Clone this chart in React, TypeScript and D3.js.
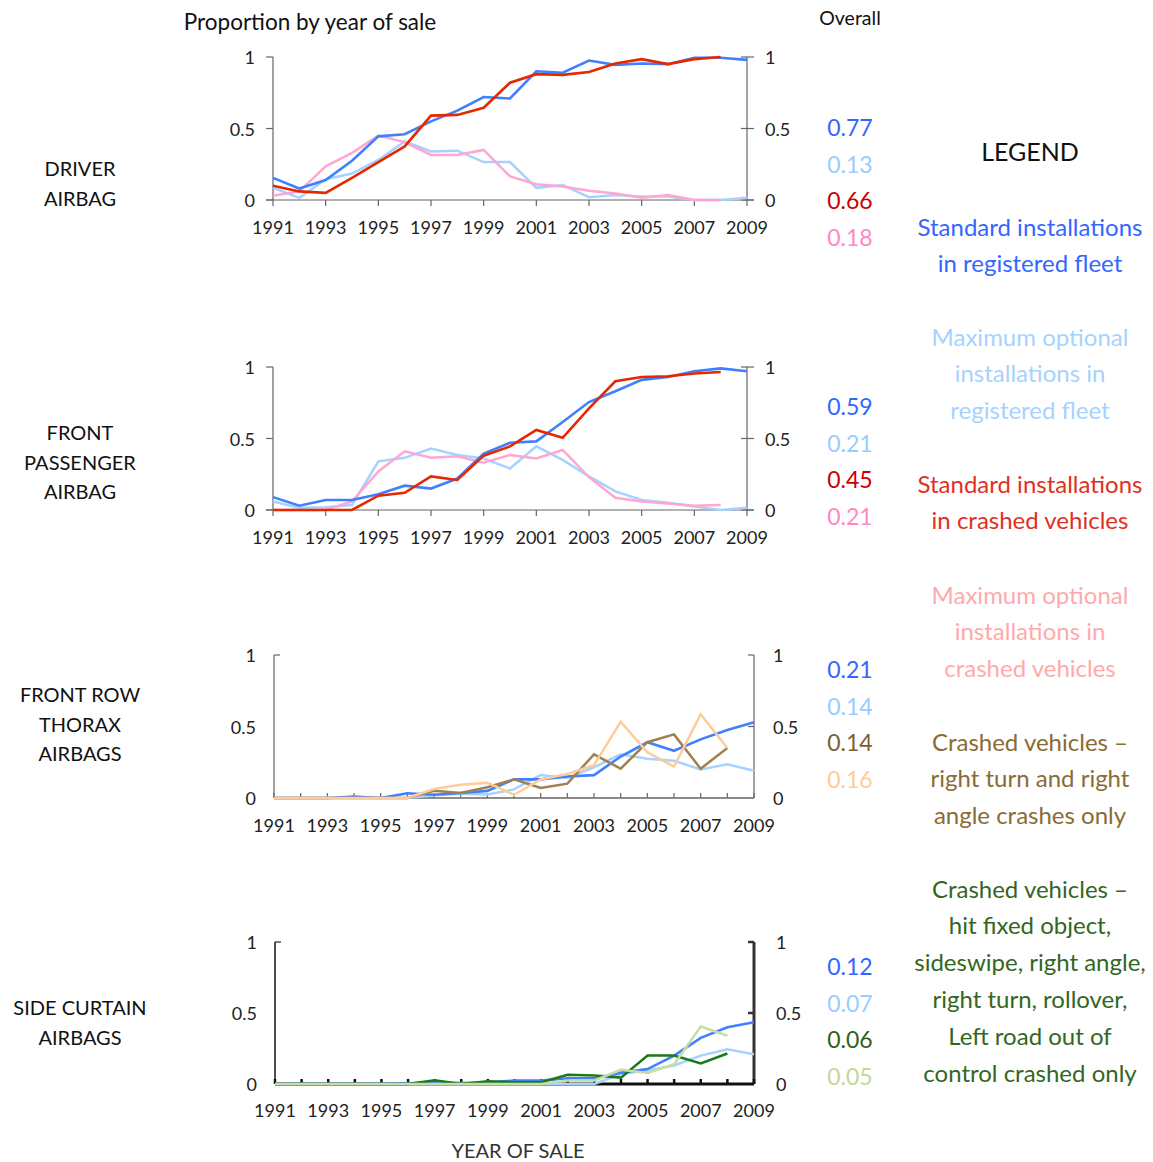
import React from "react";
import * as d3 from "d3";

const years = [1991, 1992, 1993, 1994, 1995, 1996, 1997, 1998, 1999, 2000, 2001, 2002, 2003, 2004, 2005, 2006, 2007, 2008, 2009];
const yearLabels = ["1991", "1993", "1995", "1997", "1999", "2001", "2003", "2005", "2007", "2009"];
const yTickValues = [0, 0.5, 1];
const yTickLabels = ["0", "0.5", "1"];

// Driver airbag
const driverStdFleet = [0.155, 0.08, 0.14, 0.275, 0.445, 0.46, 0.55, 0.625, 0.72, 0.71, 0.9, 0.89, 0.975, 0.945, 0.955, 0.95, 0.995, 0.995, 0.98];
const driverMaxFleet = [0.085, 0.015, 0.145, 0.185, 0.28, 0.41, 0.34, 0.345, 0.265, 0.265, 0.085, 0.105, 0.02, 0.035, 0.025, 0.025, 0, 0, 0.015];
const driverStdCrashed = [0.1, 0.06, 0.05, 0.155, 0.265, 0.375, 0.59, 0.595, 0.645, 0.82, 0.88, 0.875, 0.895, 0.955, 0.985, 0.95, 0.985, 1.0];
const driverMaxCrashed = [0.03, 0.06, 0.235, 0.33, 0.45, 0.405, 0.315, 0.315, 0.35, 0.165, 0.11, 0.095, 0.065, 0.045, 0.015, 0.035, 0, 0];
const driverOverall = ["0.77", "0.13", "0.66", "0.18"];

// Front passenger airbag
const passStdFleet = [0.09, 0.03, 0.07, 0.07, 0.11, 0.17, 0.15, 0.22, 0.395, 0.47, 0.48, 0.615, 0.755, 0.83, 0.91, 0.93, 0.97, 0.99, 0.97];
const passMaxFleet = [0.06, 0.015, 0.02, 0.035, 0.34, 0.365, 0.43, 0.385, 0.36, 0.29, 0.445, 0.35, 0.235, 0.13, 0.07, 0.05, 0.025, 0, 0.015];
const passStdCrashed = [0, 0, 0, 0, 0.1, 0.12, 0.235, 0.21, 0.38, 0.445, 0.56, 0.505, 0.71, 0.9, 0.93, 0.935, 0.955, 0.965];
const passMaxCrashed = [0, 0, 0, 0.06, 0.27, 0.41, 0.365, 0.375, 0.33, 0.385, 0.36, 0.42, 0.23, 0.085, 0.06, 0.045, 0.03, 0.035];
const passOverall = ["0.59", "0.21", "0.45", "0.21"];

// Front row thorax airbags
const thoraxStdFleet = [0, 0, 0, 0.01, 0, 0.033, 0.023, 0.035, 0.05, 0.13, 0.13, 0.15, 0.16, 0.29, 0.39, 0.33, 0.41, 0.475, 0.53];
const thoraxMaxFleet = [0, 0, 0, 0, 0, 0, 0.02, 0.03, 0.025, 0.06, 0.16, 0.14, 0.215, 0.305, 0.275, 0.26, 0.2, 0.235, 0.19];
const thoraxRightTurn = [0, 0, 0, 0, 0, 0, 0.05, 0.035, 0.075, 0.13, 0.07, 0.1, 0.305, 0.205, 0.39, 0.445, 0.205, 0.35];
const thoraxRightTurnMax = [0, 0, 0, 0, 0, 0, 0.063, 0.093, 0.107, 0.023, 0.13, 0.168, 0.23, 0.533, 0.32, 0.22, 0.585, 0.35];
const thoraxOverall = ["0.21", "0.14", "0.14", "0.16"];

// Side curtain airbags
const curtainStdFleet = [0, 0, 0, 0, 0, 0.005, 0.01, 0.007, 0.01, 0.024, 0.024, 0.04, 0.04, 0.08, 0.105, 0.2, 0.325, 0.4, 0.435];
const curtainMaxFleet = [0, 0, 0, 0, 0, 0, 0, 0, 0, 0, 0, 0, 0, 0.07, 0.095, 0.13, 0.2, 0.245, 0.21];
const curtainSelected = [0, 0, 0, 0, 0, 0, 0.026, 0, 0.02, 0.012, 0.012, 0.065, 0.06, 0.045, 0.2, 0.2, 0.145, 0.215];
const curtainSelectedMax = [0, 0, 0, 0, 0, 0, 0, 0, 0, 0, 0, 0.025, 0.025, 0.1, 0.078, 0.14, 0.405, 0.34];
const curtainOverall = ["0.12", "0.07", "0.06", "0.05"];

const FONT = "Lato, 'Open Sans', sans-serif";

const C = {
  blue: "#4080ff",
  lblue: "#a6d2ff",
  red: "#e62800",
  pink: "#ffa6d2",
  brown: "#a08050",
  peach: "#ffcc99",
  dgreen: "#1a7a1a",
  pgreen: "#c8dca8",
};

type Series = { values: number[]; color: string; width: number };

type Panel = {
  label: string[];
  labelY: number;
  left: number;
  right: number;
  top: number;
  bottom: number;
  style: "a" | "b" | "c";
  series: Series[];
  overall: string[];
  overallColors: string[];
  overallY: number;
  rightLabelX: number;
  xLabelY: number;
};

const panels: Panel[] = [
  {
    label: ["DRIVER", "AIRBAG"], labelY: 168,
    left: 273, right: 747, top: 57, bottom: 200, style: "a",
    series: [
      { values: driverMaxFleet, color: C.lblue, width: 2.5 },
      { values: driverMaxCrashed, color: C.pink, width: 2.5 },
      { values: driverStdFleet, color: C.blue, width: 2.6 },
      { values: driverStdCrashed, color: C.red, width: 2.6 },
    ],
    overall: driverOverall,
    overallColors: ["#3366ff", "#99ccff", "#cc0000", "#ff88c4"],
    overallY: 127, rightLabelX: 765, xLabelY: 227,
  },
  {
    label: ["FRONT", "PASSENGER", "AIRBAG"], labelY: 432,
    left: 273, right: 747, top: 367, bottom: 510, style: "a",
    series: [
      { values: passMaxFleet, color: C.lblue, width: 2.5 },
      { values: passMaxCrashed, color: C.pink, width: 2.5 },
      { values: passStdFleet, color: C.blue, width: 2.6 },
      { values: passStdCrashed, color: C.red, width: 2.6 },
    ],
    overall: passOverall,
    overallColors: ["#3366ff", "#99ccff", "#cc0000", "#ff88c4"],
    overallY: 406, rightLabelX: 765, xLabelY: 537,
  },
  {
    label: ["FRONT ROW", "THORAX", "AIRBAGS"], labelY: 694,
    left: 274, right: 754, top: 655, bottom: 798, style: "b",
    series: [
      { values: thoraxMaxFleet, color: C.lblue, width: 2.5 },
      { values: thoraxStdFleet, color: C.blue, width: 2.6 },
      { values: thoraxRightTurn, color: C.brown, width: 2.5 },
      { values: thoraxRightTurnMax, color: C.peach, width: 2.5 },
    ],
    overall: thoraxOverall,
    overallColors: ["#3366ff", "#99ccff", "#7f6030", "#ffcc99"],
    overallY: 669, rightLabelX: 773, xLabelY: 825,
  },
  {
    label: ["SIDE CURTAIN", "AIRBAGS"], labelY: 1007,
    left: 275, right: 754, top: 942, bottom: 1084, style: "c",
    series: [
      { values: curtainMaxFleet, color: C.lblue, width: 2.5 },
      { values: curtainStdFleet, color: C.blue, width: 2.6 },
      { values: curtainSelected, color: C.dgreen, width: 2.5 },
      { values: curtainSelectedMax, color: C.pgreen, width: 2.5 },
    ],
    overall: curtainOverall,
    overallColors: ["#3366ff", "#99ccff", "#2f5f1a", "#c4d79b"],
    overallY: 966, rightLabelX: 776, xLabelY: 1110,
  },
];

const legendItems: { lines: string[]; color: string; y: number }[] = [
  { lines: ["Standard installations", "in registered fleet"], color: "#3366ff", y: 226 },
  { lines: ["Maximum optional", "installations in", "registered fleet"], color: "#a6d2ff", y: 336 },
  { lines: ["Standard installations", "in crashed vehicles"], color: "#e0301e", y: 483 },
  { lines: ["Maximum optional", "installations in", "crashed vehicles"], color: "#ffaaaa", y: 594 },
  { lines: ["Crashed vehicles –", "right turn and right", "angle crashes only"], color: "#8b6b35", y: 741 },
  { lines: ["Crashed vehicles –", "hit fixed object,", "sideswipe, right angle,", "right turn, rollover,", "Left road out of", "control crashed only"], color: "#336622", y: 888 },
];

function PanelView({ p }: { p: Panel }) {
  const x = d3.scaleLinear().domain([years[0], years[years.length - 1]]).range([p.left, p.right]);
  const y = d3.scaleLinear().domain([0, 1]).range([p.bottom, p.top]);
  const line = d3.line<number>().x((_, i) => x(years[i])).y((v) => y(v));
  const axisColor = p.style === "c" ? "#111" : "#666";
  const tickFont = 18;

  const axes: React.ReactNode[] = [];
  if (p.style === "a") {
    axes.push(<line key="la" x1={p.left} x2={p.left} y1={p.top} y2={p.bottom} stroke="#666" strokeWidth={1.2} />);
    axes.push(<line key="ra" x1={p.right} x2={p.right} y1={p.top} y2={p.bottom} stroke="#666" strokeWidth={1.2} />);
    axes.push(<line key="ba" x1={p.left - 7} x2={p.right + 7} y1={p.bottom} y2={p.bottom} stroke="#666" strokeWidth={1.2} />);
    yTickValues.forEach((v, i) => {
      axes.push(<line key={"lt" + i} x1={p.left - 7} x2={p.left} y1={y(v)} y2={y(v)} stroke="#666" strokeWidth={1.2} />);
      axes.push(<line key={"rt" + i} x1={p.right - 6} x2={p.right + 7} y1={y(v)} y2={y(v)} stroke="#666" strokeWidth={1.2} />);
    });
    years.forEach((yr, i) => {
      if (i % 2 === 0) axes.push(<line key={"xt" + i} x1={x(yr)} x2={x(yr)} y1={p.bottom} y2={p.bottom + 6} stroke="#666" strokeWidth={1.2} />);
    });
  } else {
    const bw = p.style === "c" ? 3 : 1.3;
    axes.push(<line key="la" x1={p.left} x2={p.left} y1={p.top} y2={p.bottom} stroke={p.style === "c" ? "#222" : "#666"} strokeWidth={p.style === "c" ? 1.6 : 1.2} />);
    axes.push(<line key="lt1" x1={p.left} x2={p.left + 6} y1={p.top} y2={p.top} stroke={p.style === "c" ? "#222" : "#666"} strokeWidth={1.2} />);
    axes.push(<line key="ra" x1={p.right} x2={p.right} y1={p.top} y2={p.bottom} stroke={p.style === "c" ? "#333" : "#666"} strokeWidth={p.style === "c" ? 3 : 1.2} />);
    axes.push(<line key="rt1" x1={p.right - 6} x2={p.right} y1={p.top} y2={p.top} stroke={p.style === "c" ? "#333" : "#666"} strokeWidth={p.style === "c" ? 2.5 : 1.2} />);
    axes.push(<line key="rt2" x1={p.right - 6} x2={p.right} y1={y(0.5)} y2={y(0.5)} stroke={p.style === "c" ? "#333" : "#666"} strokeWidth={p.style === "c" ? 2.5 : 1.2} />);
    axes.push(<line key="ba" x1={p.left} x2={p.right} y1={p.bottom} y2={p.bottom} stroke={axisColor} strokeWidth={bw} />);
    years.forEach((yr, i) => {
      axes.push(<line key={"xt" + i} x1={x(yr)} x2={x(yr)} y1={p.bottom} y2={p.bottom - 5} stroke={axisColor} strokeWidth={p.style === "c" ? 2.5 : 1.2} />);
    });
  }

  return (
    <g>
      {p.label.map((t, i) => (
        <text key={"pl" + i} x={80} y={p.labelY + i * 29.5} textAnchor="middle" dominantBaseline="central" fontSize={20} fill="#111">{t}</text>
      ))}
      {axes}
      {p.series.map((s, i) => (
        <path key={"s" + i} d={line(s.values) || ""} fill="none" stroke={s.color} strokeWidth={s.width} strokeLinejoin="miter" />
      ))}
      {yTickValues.map((v, i) => (
        <text key={"yl" + i} x={p.left - 18} y={y(v)} textAnchor="end" dominantBaseline="central" fontSize={tickFont} fill="#222">{yTickLabels[i]}</text>
      ))}
      {yTickValues.map((v, i) => (
        <text key={"yr" + i} x={p.rightLabelX} y={y(v)} textAnchor="start" dominantBaseline="central" fontSize={tickFont} fill="#222">{yTickLabels[i]}</text>
      ))}
      {yearLabels.map((t, i) => (
        <text key={"xl" + i} x={x(+t)} y={p.xLabelY} textAnchor="middle" dominantBaseline="central" fontSize={tickFont} fill="#222">{t}</text>
      ))}
      {p.overall.map((t, i) => (
        <text key={"ov" + i} x={850} y={p.overallY + i * 36.7} textAnchor="middle" dominantBaseline="central" fontSize={23} fill={p.overallColors[i]}>{t}</text>
      ))}
    </g>
  );
}

export default function App() {
  return (
    <svg width={1153} height={1162} style={{ position: "absolute", left: 0, top: 0, background: "#fff" }} fontFamily={FONT}>
      <rect x={0} y={0} width={1153} height={1162} fill="#fff" />
      <text x={310} y={21} textAnchor="middle" dominantBaseline="central" fontSize={22.5} fill="#111">Proportion by year of sale</text>
      <text x={850} y={17} textAnchor="middle" dominantBaseline="central" fontSize={19.5} fill="#111">Overall</text>
      {panels.map((p, i) => <PanelView key={i} p={p} />)}
      <text x={1030} y={151} textAnchor="middle" dominantBaseline="central" fontSize={25} fill="#111">LEGEND</text>
      {legendItems.map((it, i) => (
        <g key={"lg" + i}>
          {it.lines.map((t, j) => (
            <text key={j} x={1030} y={it.y + j * 36.8} textAnchor="middle" dominantBaseline="central" fontSize={24} fill={it.color}>{t}</text>
          ))}
        </g>
      ))}
      <text x={518} y={1150} textAnchor="middle" dominantBaseline="central" fontSize={20} fill="#333">YEAR OF SALE</text>
    </svg>
  );
}
